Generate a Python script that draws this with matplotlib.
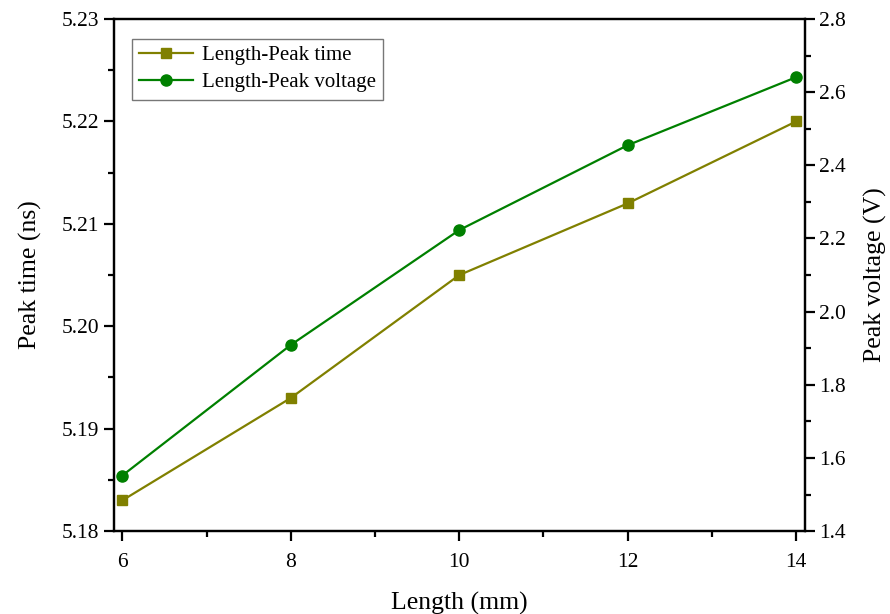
import matplotlib
matplotlib.use("Agg")
import matplotlib.pyplot as plt
from matplotlib.ticker import MultipleLocator

plt.rcParams['font.family'] = ['Liberation Serif', 'DejaVu Serif']
plt.rcParams['mathtext.fontset'] = 'stix'

length = [6, 8, 10, 12, 14]
peak_time = [5.183, 5.193, 5.205, 5.212, 5.220]
peak_voltage = [1.552, 1.909, 2.223, 2.455, 2.641]

fig = plt.figure(figsize=(8.9, 6.14), dpi=100)
ax = fig.add_axes([0.128, 0.135, 0.776, 0.834])
ax2 = ax.twinx()

l1, = ax.plot(length, peak_time, color='#808000', marker='s', markersize=6.5,
              linewidth=1.6, label='Length-Peak time')
l2, = ax2.plot(length, peak_voltage, color='#008000', marker='o', markersize=8,
               linewidth=1.6, label='Length-Peak voltage')

ax.set_xlim(5.9, 14.1)
ax.set_ylim(5.18, 5.23)
ax2.set_ylim(1.4, 2.8)

ax.xaxis.set_major_locator(MultipleLocator(2))
ax.xaxis.set_minor_locator(MultipleLocator(1))
ax.yaxis.set_major_locator(MultipleLocator(0.01))
ax.yaxis.set_minor_locator(MultipleLocator(0.005))
ax2.yaxis.set_major_locator(MultipleLocator(0.2))
ax2.yaxis.set_minor_locator(MultipleLocator(0.1))
ax.yaxis.set_major_formatter(plt.FormatStrFormatter('%.2f'))
ax2.yaxis.set_major_formatter(plt.FormatStrFormatter('%.1f'))

for a in (ax, ax2):
    for s in a.spines.values():
        s.set_linewidth(1.6)
    a.tick_params(which='major', direction='out', length=7, width=1.6, labelsize=15.5)
    a.tick_params(which='minor', direction='out', length=4, width=1.6)
ax.tick_params(axis='x', which='major', pad=9)

ax.set_xlabel('Length (mm)', fontsize=18.5, labelpad=14)
ax.set_ylabel('Peak time (ns)', fontsize=18.5, labelpad=14)
ax2.set_ylabel('Peak voltage (V)', fontsize=18.5, labelpad=13)

leg = ax.legend(handles=[l1, l2], loc='upper left', bbox_to_anchor=(0.02, 0.97),
                fontsize=15, frameon=True, fancybox=False, edgecolor='#555555',
                handlelength=2.6, borderpad=0.35, labelspacing=0.35,
                handletextpad=0.4, borderaxespad=0.2)
leg.get_frame().set_linewidth(1.0)

fig.savefig('out.png', dpi=100)
